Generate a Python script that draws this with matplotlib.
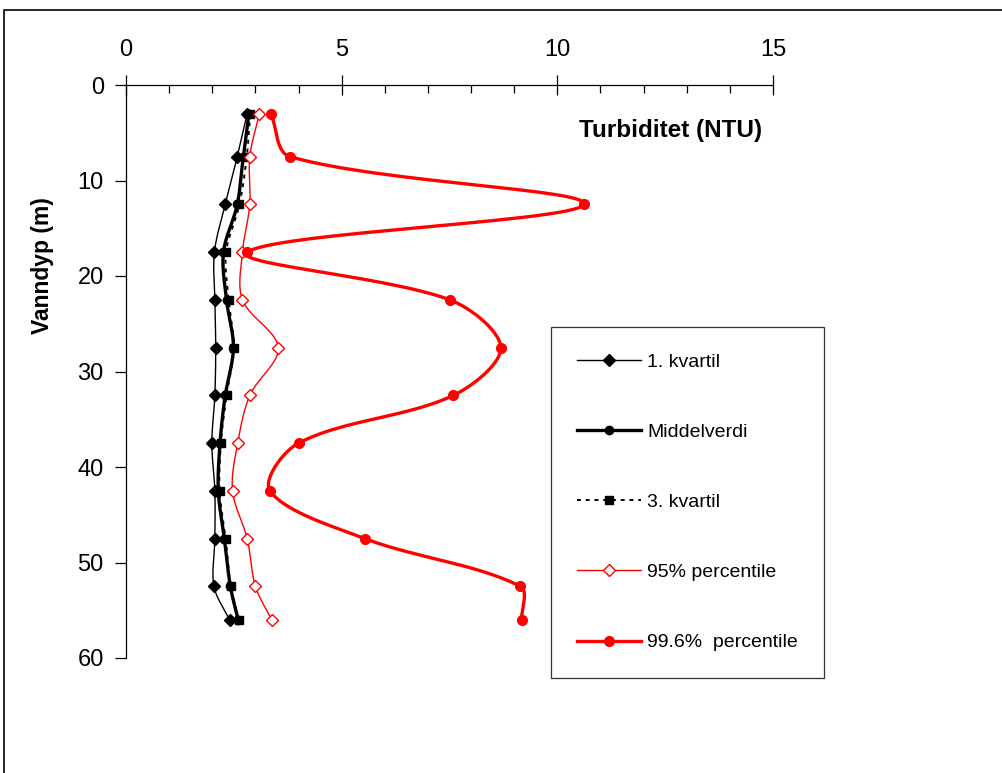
import numpy as np
import matplotlib
matplotlib.use("Agg")
import matplotlib.pyplot as plt
from matplotlib.lines import Line2D
from matplotlib.patches import Rectangle
from matplotlib.ticker import MultipleLocator

plt.rcParams['font.family'] = ['Liberation Sans', 'DejaVu Sans']

# depth (m) and turbidity (NTU)
depth = [3, 7.5, 12.5, 17.5, 22.5, 27.5, 32.5, 37.5, 42.5, 47.5, 52.5, 56]
kvartil1 = [2.81, 2.58, 2.30, 2.05, 2.06, 2.08, 2.06, 1.99, 2.06, 2.06, 2.04, 2.40]
middel = [2.85, 2.72, 2.58, 2.26, 2.33, 2.49, 2.30, 2.18, 2.14, 2.28, 2.42, 2.60]
kvartil3 = [2.88, 2.80, 2.63, 2.32, 2.38, 2.50, 2.33, 2.20, 2.17, 2.31, 2.43, 2.62]
pct95 = [3.09, 2.87, 2.87, 2.70, 2.70, 3.53, 2.87, 2.59, 2.47, 2.81, 3.00, 3.38]
pct996 = [3.36, 3.80, 10.62, 2.81, 7.51, 8.69, 7.59, 4.00, 3.34, 5.54, 9.14, 9.17]

labels = ["1. kvartil", "Middelverdi", "3. kvartil", "95% percentile", "99.6%  percentile"]

# axes box in pixels
ax_left, ax_right, ax_top, ax_bottom = 126, 773, 85, 658
px_x = (ax_right - ax_left) / 15.0
px_y = (ax_bottom - ax_top) / 60.0


# excel style smoothed line: bezier, tangents weighted by segment lengths (in pixels)
def smooth(x, y, n=30):
    P = np.column_stack([np.asarray(x) * px_x, np.asarray(y) * px_y])
    m = len(P)
    t = np.linspace(0, 1, n)[:, None]
    out = []
    for i in range(m - 1):
        p0 = P[i - 1] if i > 0 else P[i]
        p1, p2 = P[i], P[i + 1]
        p3 = P[i + 2] if i + 2 < m else P[i + 1]
        d01 = np.hypot(*(p1 - p0))
        d12 = np.hypot(*(p2 - p1))
        d23 = np.hypot(*(p3 - p2))
        c1 = p1 + (p2 - p0) * d12 / (d01 + d12) / 3
        c2 = p2 - (p3 - p1) * d12 / (d12 + d23) / 3
        seg = (1 - t) ** 3 * p1 + 3 * (1 - t) ** 2 * t * c1 + 3 * (1 - t) * t ** 2 * c2 + t ** 3 * p2
        out.append(seg if i == 0 else seg[1:])
    s = np.vstack(out)
    return s[:, 0] / px_x, s[:, 1] / px_y


fig = plt.figure(figsize=(10.03, 7.73), dpi=100)
ax = fig.add_axes([ax_left / 1003, 1 - ax_bottom / 773, (ax_right - ax_left) / 1003, (ax_bottom - ax_top) / 773])

styles = [
    dict(color="black", lw=1.0, ls="-", marker="D", ms=6, mfc="black", mec="black"),
    dict(color="black", lw=2.4, ls="-", marker="o", ms=6, mfc="black", mec="black"),
    dict(color="black", lw=1.4, ls=(0, (2, 2.5)), marker="s", ms=6, mfc="black", mec="black"),
    dict(color="red", lw=1.0, ls="-", marker="D", ms=6, mfc="white", mec="red"),
    dict(color="red", lw=2.4, ls="-", marker="o", ms=7, mfc="red", mec="red"),
]
series = [kvartil1, middel, kvartil3, pct95, pct996]

handles = []
for k, (vals, st) in enumerate(zip(series, styles)):
    sx, sy = smooth(vals, depth)
    ax.plot(sx, sy, color=st["color"], lw=st["lw"], ls=st["ls"], zorder=2 + k, clip_on=False)
    ax.plot(vals, depth, ls="none", marker=st["marker"], ms=st["ms"],
            mfc=st["mfc"], mec=st["mec"], mew=1.0, zorder=2.5 + k, clip_on=False)
    handles.append(Line2D([], [], color=st["color"], lw=st["lw"], ls=st["ls"],
                          marker=st["marker"], ms=st["ms"], mfc=st["mfc"], mec=st["mec"], mew=1.0))

ax.set_xlim(0, 15)
ax.set_ylim(60, 0)

for s in ["right", "bottom"]:
    ax.spines[s].set_visible(False)
ax.spines["top"].set_linewidth(0.9)
ax.spines["left"].set_linewidth(0.9)

ax.xaxis.tick_top()
ax.xaxis.set_major_locator(MultipleLocator(5))
ax.xaxis.set_minor_locator(MultipleLocator(1))
ax.tick_params(axis="x", which="major", direction="inout", length=14, width=0.9, pad=10, labelsize=17)
ax.tick_params(axis="x", which="minor", direction="in", length=6, width=0.9)
ax.yaxis.set_major_locator(MultipleLocator(10))
ax.tick_params(axis="y", which="major", direction="out", length=8, width=0.9, pad=8, labelsize=17)

fig.text(671 / 1003, 1 - 130 / 773, "Turbiditet (NTU)", ha="center", va="center",
         fontsize=17.5, fontweight="bold")
fig.text(42 / 1003, 1 - 266 / 773, "Vanndyp (m)", rotation=90, ha="center", va="center",
         fontsize=16.5, fontweight="bold")

leg = fig.legend(handles, labels, loc="upper left", bbox_to_anchor=(551 / 1003, 1 - 327 / 773),
                 frameon=True, fancybox=False, fontsize=14, handlelength=3.3, handletextpad=0.3,
                 labelspacing=2.7, borderpad=1.35, borderaxespad=0)
leg.get_frame().set_edgecolor("black")
leg.get_frame().set_linewidth(0.9)

# outer chart border
fig.patches.append(Rectangle((4 / 1003, -0.1), 1.2, 1 - 10 / 773 + 0.1, transform=fig.transFigure,
                             fill=False, edgecolor="black", lw=1.2))

fig.savefig("out.png", dpi=100)
